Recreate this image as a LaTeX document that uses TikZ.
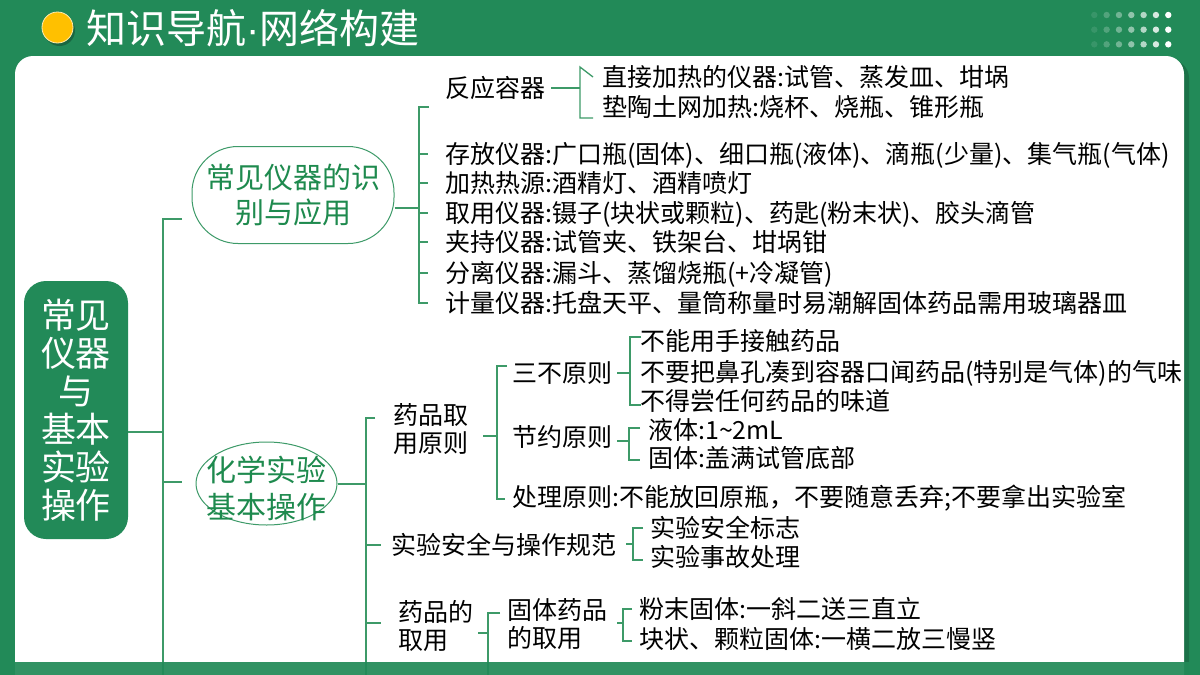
\documentclass[tikz,border=0pt]{standalone}
\usepackage{fontspec}
\setmainfont{Noto Sans CJK SC}
\newfontfamily\latinfont{Liberation Sans}
\usetikzlibrary{shapes.geometric}
\definecolor{bggreen}{HTML}{228A58}
\definecolor{lgreen}{HTML}{3D9A68}
\definecolor{tgreen}{HTML}{1E8A4E}
\definecolor{gold}{HTML}{FFC000}
\begin{document}
\begin{tikzpicture}[x=1pt,y=-1pt,
  conn/.style={draw=lgreen, line width=1.3pt},
  item/.style={anchor=west, inner sep=0pt, text=black, font=\fontsize{25}{29}\selectfont, text height=20.75pt, text depth=1.75pt},
  item2/.style={anchor=west, inner sep=0pt, text=black, font=\fontsize{25}{28}\selectfont, align=left},
  ovaltext/.style={inner sep=0pt, text=tgreen, align=center}
]
\useasboundingbox (0,0) rectangle (1200,675);
% background
\fill[bggreen] (0,0) rectangle (1200,675);
% panel shadow + panel
\fill[black, opacity=0.18, rounded corners=18pt] (19,60) -- (1189,60) -- (1189,700) -- (19,700) -- cycle;
\fill[white, rounded corners=18pt] (15,56) -- (1184,56) -- (1184,700) -- (15,700) -- cycle;
% title
\fill[black, opacity=0.25] (59.5,30.5) circle (15.5);
\fill[gold, draw=white!70!gold, line width=0.8pt] (57.5,27.5) circle (15.5);
\node[anchor=west, inner sep=0pt, text=white, font=\fontsize{40}{44}\selectfont, text height=33.2pt, text depth=2.8pt] (title) at (86,28) {知识导航{\latinfont·}网络构建};
% dots
\foreach \i/\op in {0/0.1,1/0.22,2/0.36,3/0.5,4/0.66,5/0.82,6/1}
  \foreach \j in {0,1,2}
    \fill[white, opacity=\op] (1094.3+12.33*\i, 15+14.67*\j) circle (3.2);

% root
\node[fill=bggreen, rounded corners=22pt, minimum width=104pt, minimum height=258pt, inner sep=0pt,
      text=white, align=center, font=\fontsize{35}{38}\selectfont] (root) at (76,410) {常见\\仪器\\与\\基本\\实验\\操作};

% level 1 ovals
\node[draw=lgreen, line width=1pt, rounded corners=46pt, minimum width=202pt, minimum height=97pt, inner sep=0pt,
      text=tgreen, align=center, font=\fontsize{29}{35}\selectfont] (e1) at (293,195) {常见仪器的识\\别与应用};
\node[draw=lgreen, line width=1pt, ellipse, minimum width=141pt, minimum height=83pt, inner sep=0pt] (e2) at (266.5,483.5) {};
\node[ovaltext, font=\fontsize{30}{37}\selectfont] (e2t) at (266.5,488) {化学实验\\基本操作};

% trunk
\draw[conn] (root.east |- 0,432) -- (163,432);
\draw[conn] (182,219) -- (163,219) -- (163,675);
\draw[conn] (163,482) -- (182,482);

% ===== section 1 =====
\node[item] (fy) at (445,88) {反应容器};
\node[item] (d1) at (602,77) {直接加热的仪器:试管、蒸发皿、坩埚};
\node[item] (d2) at (602,107) {垫陶土网加热:烧杯、烧瓶、锥形瓶};
\node[item] (s1) at (445,154) {存放仪器:广口瓶(固体)、细口瓶(液体)、滴瓶(少量)、集气瓶(气体)};
\node[item] (s2) at (445,183) {加热热源:酒精灯、酒精喷灯};
\node[item] (s3) at (445,213) {取用仪器:镊子(块状或颗粒)、药匙(粉末状)、胶头滴管};
\node[item] (s4) at (445,242) {夹持仪器:试管夹、铁架台、坩埚钳};
\node[item] (s5) at (445,273) {分离仪器:漏斗、蒸馏烧瓶(+冷凝管)};
\node[item] (s6) at (445,303) {计量仪器:托盘天平、量筒称量时易潮解固体药品需用玻璃器皿};

\draw[conn] (e1.east |- 0,208) -- (419,208);
\draw[conn] (429,107) -- (419,107) -- (419,303) -- ([xshift=-17pt]s6.west);
\foreach \n in {s1,s2,s3,s4,s5}
  \draw[conn] (419,0 |- \n.west) -- ([xshift=-17pt]\n.west);
\draw[conn] ([xshift=6pt]fy.east) -- (580,88);
\draw[conn] ([xshift=-9pt]d1.west) -- (580,67) -- (580,118) -- ([xshift=-9pt]d2.west |- 0,118);

% ===== section 2 =====
\draw[conn] (e2.east |- 0,484) -- (366,484);
\draw[conn] (375,418) -- (366,418) -- (366,675);
\node[item2] (yq) at (393,429) {药品取\\用原则};
\node[item] (sb) at (512,373) {三不原则};
\node[item] (n1) at (640,341) {不能用手接触药品};
\node[item] (n2) at (640,372) {不要把鼻孔凑到容器口闻药品(特别是气体)的气味};
\node[item] (n3) at (640,401) {不得尝任何药品的味道};
\node[item] (jy) at (512,437) {节约原则};
\node[item] (j1) at (648,430) {液体:1\textasciitilde2mL};
\node[item] (j2) at (648,458) {固体:盖满试管底部};
\node[item] (cl) at (512,497) {处理原则:不能放回原瓶，不要随意丢弃;不要拿出实验室};
\node[item] (aq) at (391,545) {实验安全与操作规范};
\node[item] (a1) at (650,528) {实验安全标志};
\node[item] (a2) at (650,557) {实验事故处理};
\node[item2] (yd) at (398,626) {药品的\\取用};
\node[item2] (gt) at (507,624) {固体药品\\的取用};
\node[item] (g1) at (639,609) {粉末固体:一斜二送三直立};
\node[item] (g2) at (639,639) {块状、颗粒固体:一横二放三慢竖};

\draw[conn] (366,545) -- (381,545);
\draw[conn] (366,623) -- (381,623);
% 药品取用原则
\draw[conn] (483,436) -- (497,436);
\draw[conn] (507,366) -- (497,366) -- (497,499) -- (505,499);
% 三不原则
\draw[conn] (617,373) -- (630,373);
\draw[conn] (641,337) -- (630,337) -- (630,405) -- (641,405);
% 节约原则
\draw[conn] (617,441) -- (629,441);
\draw[conn] (640,428) -- (629,428) -- (629,460) -- (640,460);
% 实验安全
\draw[conn] (626,544) -- (633,544);
\draw[conn] (643,528) -- (633,528) -- (633,560) -- (643,560);
% 药品的取用
\draw[conn] (478,633) -- (488,633);
\draw[conn] (500,613) -- (488,613) -- (488,675);
% 固体药品的取用
\draw[conn] (617,623) -- (623,623);
\draw[conn] (632,609) -- (623,609) -- (623,641) -- (632,641);

% bottom band
\fill[bggreen, opacity=0.93] (0,662) rectangle (1200,675);
\end{tikzpicture}
\end{document}
